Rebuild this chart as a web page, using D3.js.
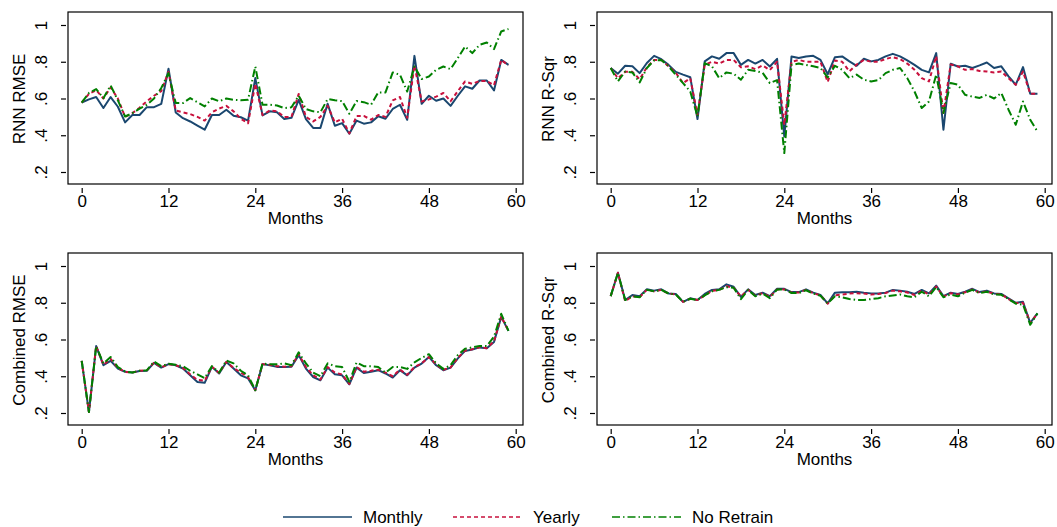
<!DOCTYPE html>
<html>
<head>
<meta charset="utf-8">
<script src="https://d3js.org/d3.v7.min.js"></script>
<style>
  body { margin: 0; background: #fff; }
  text { font-family: Arial, "Liberation Sans", Helvetica, sans-serif; fill: #000; }
</style>
</head>
<body>
<svg id="chart" width="1057" height="527"></svg>
<script>
// x tick labels and y tick labels
const xTicks = [0, 12, 24, 36, 48, 60];
const yTicks = [0.2, 0.4, 0.6, 0.8, 1];
const yTickLabels = ['.2', '.4', '.6', '.8', '1'];

const seriesNames = ['Monthly', 'Yearly', 'No Retrain'];

// RNN RMSE (months 0..59)
const rnnRmseMonthly = [0.578,0.595,0.608,0.548,0.608,0.555,0.47,0.51,0.51,0.553,0.553,0.571,0.762,0.524,0.493,0.475,0.452,0.43,0.51,0.51,0.539,0.506,0.498,0.48,0.711,0.508,0.53,0.525,0.488,0.495,0.593,0.488,0.44,0.44,0.571,0.452,0.466,0.408,0.48,0.463,0.47,0.503,0.49,0.543,0.566,0.484,0.832,0.571,0.615,0.588,0.6,0.56,0.615,0.666,0.653,0.698,0.698,0.644,0.81,0.783];
const rnnRmseYearly = [0.578,0.625,0.645,0.6,0.66,0.6,0.5,0.52,0.55,0.585,0.615,0.64,0.745,0.535,0.525,0.515,0.5,0.48,0.525,0.545,0.56,0.53,0.49,0.465,0.68,0.51,0.535,0.53,0.5,0.5,0.625,0.5,0.475,0.5,0.56,0.47,0.49,0.41,0.505,0.505,0.485,0.51,0.5,0.59,0.608,0.495,0.78,0.584,0.595,0.61,0.63,0.585,0.64,0.693,0.68,0.695,0.695,0.672,0.81,0.78];
const rnnRmseNoRetrain = [0.578,0.63,0.651,0.602,0.671,0.59,0.502,0.52,0.545,0.566,0.6,0.657,0.738,0.575,0.575,0.602,0.58,0.557,0.6,0.585,0.6,0.593,0.59,0.593,0.774,0.566,0.566,0.562,0.548,0.552,0.615,0.543,0.53,0.525,0.597,0.59,0.586,0.517,0.586,0.58,0.566,0.633,0.633,0.742,0.729,0.638,0.774,0.706,0.72,0.756,0.774,0.76,0.82,0.883,0.847,0.892,0.905,0.869,0.965,0.978];

// RNN R-Sqr
const rnnRsqMonthly = [0.766,0.735,0.778,0.775,0.738,0.793,0.832,0.814,0.783,0.745,0.73,0.716,0.488,0.802,0.829,0.816,0.847,0.847,0.783,0.81,0.79,0.81,0.774,0.816,0.394,0.829,0.82,0.829,0.832,0.81,0.732,0.825,0.829,0.802,0.778,0.816,0.802,0.81,0.829,0.843,0.829,0.807,0.783,0.756,0.742,0.847,0.43,0.789,0.774,0.778,0.766,0.78,0.796,0.766,0.775,0.72,0.675,0.771,0.626,0.626];
const rnnRsqYearly = [0.766,0.71,0.745,0.745,0.705,0.77,0.81,0.81,0.775,0.74,0.684,0.71,0.51,0.783,0.8,0.79,0.81,0.81,0.77,0.775,0.76,0.78,0.755,0.8,0.457,0.8,0.81,0.8,0.8,0.8,0.69,0.807,0.8,0.748,0.785,0.81,0.8,0.8,0.815,0.825,0.815,0.79,0.756,0.711,0.693,0.83,0.521,0.785,0.775,0.756,0.76,0.75,0.747,0.742,0.747,0.71,0.675,0.747,0.626,0.626];
const rnnRsqNoRetrain = [0.766,0.693,0.747,0.742,0.687,0.766,0.807,0.81,0.775,0.729,0.684,0.638,0.502,0.793,0.775,0.711,0.742,0.735,0.702,0.756,0.75,0.74,0.684,0.7,0.303,0.783,0.79,0.783,0.775,0.766,0.715,0.778,0.756,0.711,0.73,0.702,0.693,0.7,0.738,0.756,0.766,0.711,0.638,0.548,0.584,0.729,0.521,0.684,0.675,0.62,0.61,0.603,0.62,0.6,0.63,0.539,0.457,0.584,0.484,0.42];

// Combined RMSE
const combRmseMonthly = [0.484,0.205,0.564,0.46,0.484,0.442,0.424,0.42,0.429,0.43,0.473,0.447,0.466,0.46,0.442,0.405,0.369,0.364,0.451,0.415,0.478,0.442,0.405,0.388,0.324,0.466,0.46,0.451,0.451,0.452,0.515,0.442,0.396,0.378,0.447,0.411,0.405,0.356,0.447,0.418,0.424,0.433,0.415,0.393,0.433,0.405,0.447,0.469,0.505,0.46,0.433,0.447,0.497,0.538,0.545,0.557,0.552,0.587,0.723,0.647];
const combRmseYearly = [0.484,0.205,0.564,0.462,0.495,0.445,0.424,0.42,0.43,0.432,0.474,0.448,0.466,0.46,0.445,0.41,0.38,0.375,0.452,0.418,0.478,0.445,0.42,0.395,0.324,0.466,0.462,0.455,0.452,0.455,0.52,0.45,0.405,0.382,0.45,0.42,0.41,0.358,0.45,0.425,0.43,0.436,0.42,0.4,0.436,0.408,0.45,0.47,0.505,0.465,0.435,0.448,0.5,0.54,0.547,0.558,0.553,0.59,0.725,0.647];
const combRmseNoRetrain = [0.484,0.205,0.564,0.47,0.505,0.45,0.426,0.42,0.43,0.432,0.48,0.455,0.468,0.462,0.455,0.43,0.41,0.39,0.455,0.42,0.485,0.47,0.43,0.405,0.324,0.47,0.465,0.465,0.47,0.46,0.53,0.47,0.42,0.4,0.47,0.455,0.45,0.37,0.475,0.455,0.455,0.45,0.42,0.45,0.45,0.44,0.475,0.5,0.52,0.47,0.44,0.46,0.515,0.55,0.557,0.565,0.565,0.615,0.74,0.647];

// Combined R-Sqr
const combRsqMonthly = [0.836,0.963,0.815,0.842,0.836,0.873,0.866,0.873,0.851,0.848,0.805,0.824,0.815,0.848,0.87,0.873,0.9,0.887,0.832,0.873,0.842,0.855,0.836,0.876,0.876,0.858,0.858,0.873,0.855,0.842,0.797,0.855,0.857,0.857,0.86,0.855,0.851,0.851,0.855,0.87,0.866,0.86,0.848,0.87,0.851,0.893,0.836,0.855,0.848,0.86,0.876,0.858,0.866,0.851,0.848,0.824,0.8,0.805,0.69,0.742];
const combRsqYearly = [0.836,0.963,0.808,0.835,0.83,0.87,0.862,0.87,0.85,0.845,0.805,0.822,0.815,0.84,0.865,0.87,0.89,0.882,0.833,0.87,0.838,0.852,0.832,0.872,0.873,0.856,0.856,0.87,0.852,0.84,0.795,0.84,0.845,0.85,0.852,0.85,0.845,0.848,0.853,0.866,0.862,0.856,0.842,0.866,0.845,0.888,0.834,0.852,0.845,0.857,0.872,0.855,0.862,0.848,0.846,0.82,0.798,0.8,0.69,0.742];
const combRsqNoRetrain = [0.836,0.963,0.815,0.835,0.83,0.87,0.862,0.87,0.85,0.845,0.805,0.822,0.815,0.84,0.862,0.87,0.885,0.882,0.82,0.87,0.835,0.85,0.825,0.872,0.873,0.853,0.853,0.868,0.85,0.838,0.797,0.835,0.83,0.82,0.815,0.815,0.82,0.825,0.835,0.84,0.845,0.835,0.83,0.86,0.835,0.885,0.83,0.845,0.835,0.855,0.87,0.852,0.86,0.845,0.843,0.82,0.795,0.79,0.68,0.742];

const panels = [
  {title: 'RNN RMSE', x: 68, y: 12, series: [rnnRmseMonthly, rnnRmseYearly, rnnRmseNoRetrain]},
  {title: 'RNN R-Sqr', x: 597, y: 12, series: [rnnRsqMonthly, rnnRsqYearly, rnnRsqNoRetrain]},
  {title: 'Combined RMSE', x: 68, y: 253, series: [combRmseMonthly, combRmseYearly, combRmseNoRetrain]},
  {title: 'Combined R-Sqr', x: 597, y: 253, series: [combRsqMonthly, combRsqYearly, combRsqNoRetrain]}
];

const colors = ['#1a476f', '#c8103c', '#008000'];
const dashes = [null, '4,3', '8,3,1.5,3'];
const widths = [2, 2, 2];
const fontSize = 17;

const boxW = 455, boxH = 172;
const svg = d3.select('#chart');

const xScale = d3.scaleLinear().domain([0, 60]).range([13.7, 447.7]);
const yScale = d3.scaleLinear().domain([0.2, 1]).range([160, 13]);

panels.forEach(p => {
  const g = svg.append('g').attr('transform', `translate(${p.x}, ${p.y})`);

  // plot region box
  g.append('rect')
   .attr('x', 0).attr('y', 0)
   .attr('width', boxW).attr('height', boxH)
   .attr('fill', 'none').attr('stroke', '#000').attr('stroke-width', 1.2);

  // y axis (detached from the box)
  const yAxis = g.append('g').attr('transform', 'translate(-2, 0)')
                 .call(d3.axisLeft(yScale).tickValues(yTicks).tickSize(5)
                 .tickFormat((d, i) => yTickLabels[i]));
  yAxis.select('.domain').remove();
  yAxis.selectAll('line').attr('stroke', '#000').attr('stroke-width', 1.2);
  yAxis.selectAll('text')
       .attr('font-size', fontSize)
       .attr('x', -19).attr('y', 0).attr('dy', 0)
       .attr('transform', 'rotate(-90, -19, 0)')
       .attr('text-anchor', 'middle');

  // x axis
  const xAxis = g.append('g').attr('transform', `translate(0, ${boxH + 4})`)
                 .call(d3.axisBottom(xScale).tickValues(xTicks).tickSize(5).tickPadding(2));
  xAxis.select('.domain').remove();
  xAxis.selectAll('line').attr('stroke', '#000').attr('stroke-width', 1.2);
  xAxis.selectAll('text').attr('font-size', fontSize);

  g.append('text')
   .attr('x', boxW / 2).attr('y', boxH + 40)
   .attr('text-anchor', 'middle').attr('font-size', fontSize)
   .text('Months');

  g.append('text')
   .attr('transform', `translate(-43, ${boxH / 2 + 1}) rotate(-90)`)
   .attr('text-anchor', 'middle').attr('font-size', fontSize)
   .text(p.title);

  const line = d3.line().x((d, i) => xScale(i)).y(d => yScale(d));
  p.series.forEach((s, k) => {
    g.append('path')
     .datum(s)
     .attr('d', line)
     .attr('fill', 'none')
     .attr('stroke', colors[k])
     .attr('stroke-width', widths[k])
     .attr('stroke-dasharray', dashes[k])
     .attr('stroke-linejoin', 'round');
  });
});

// legend
const legendItems = [
  {name: seriesNames[0], x: 283},
  {name: seriesNames[1], x: 453},
  {name: seriesNames[2], x: 612}
];
const lg = svg.append('g').attr('transform', 'translate(0, 517)');
legendItems.forEach((d, k) => {
  lg.append('line')
    .attr('x1', d.x).attr('x2', d.x + 69)
    .attr('y1', 0).attr('y2', 0)
    .attr('stroke', colors[k]).attr('stroke-width', 1.6)
    .attr('stroke-dasharray', dashes[k]);
  lg.append('text')
    .attr('x', d.x + 80).attr('y', 6)
    .attr('font-size', fontSize)
    .text(d.name);
});
</script>
</body>
</html>
